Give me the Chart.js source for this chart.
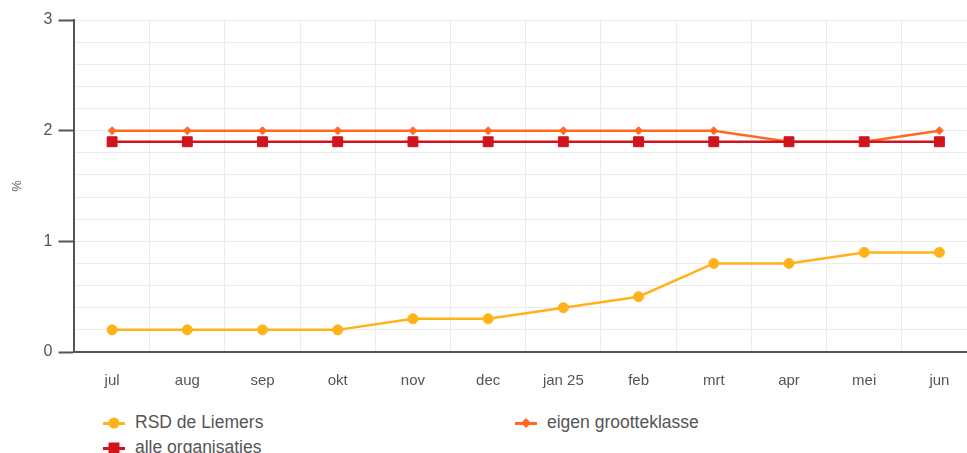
<!DOCTYPE html>
<html>
<head>
<meta charset="utf-8">
<script src="https://cdn.jsdelivr.net/npm/chart.js@4"></script>
<style>
  html, body { margin: 0; padding: 0; background: #fff; overflow: hidden; }
  #wrap { position: relative; width: 967px; height: 453px; overflow: hidden; }
  #box { position: absolute; left: 0; top: 0; width: 985px; height: 410px; }
  .legend { position: absolute; left: 0; top: 0; font-family: "Liberation Sans", Arial, sans-serif; font-size: 17.5px; color: #555; }
  .item { position: absolute; white-space: nowrap; display: flex; align-items: center; }
  .mark { position: relative; width: 22px; height: 12px; margin-right: 10px; }
  .mark .ln { position: absolute; left: 0; right: 0; top: 5px; height: 3px; }
  .mark .pt { position: absolute; left: 50%; top: 50%; transform: translate(-50%, -50%); }
</style>
</head>
<body>
<div id="wrap">
  <div id="box"><canvas id="lineChart"></canvas></div>
  <div class="legend" id="legend"></div>
</div>
<script>
// Datos
const maanden = ['jul', 'aug', 'sep', 'okt', 'nov', 'dec', 'jan 25', 'feb', 'mrt', 'apr', 'mei', 'jun'];
const rsdLiemers = [0.2, 0.2, 0.2, 0.2, 0.3, 0.3, 0.4, 0.5, 0.8, 0.8, 0.9, 0.9];
const eigenKlasse = [2, 2, 2, 2, 2, 2, 2, 2, 2, 1.9, 1.9, 2];
const alleOrganisaties = [1.9, 1.9, 1.9, 1.9, 1.9, 1.9, 1.9, 1.9, 1.9, 1.9, 1.9, 1.9];
const reeksNamen = ['RSD de Liemers', 'eigen grootteklasse', 'alle organisaties'];

const kleuren = ['#ffb21a', '#ff6a21', '#d0141e'];
const gridKleur = '#ebebeb';
const asKleur = '#555555';
const fontFam = "'Liberation Sans', Arial, sans-serif";

const ctx = document.getElementById('lineChart').getContext('2d');
const lineChart = new Chart(ctx, {
    type: 'line',
    data: {
        labels: maanden,
        datasets: [{
            label: reeksNamen[0],
            data: rsdLiemers,
            borderColor: kleuren[0],
            backgroundColor: kleuren[0],
            borderWidth: 2.5,
            pointStyle: 'circle',
            pointRadius: 5,
            pointBorderWidth: 1,
            tension: 0,
            order: 1
        }, {
            label: reeksNamen[1],
            data: eigenKlasse,
            borderColor: kleuren[1],
            backgroundColor: kleuren[1],
            borderWidth: 2.5,
            pointStyle: 'rectRot',
            pointRadius: 4,
            pointBorderWidth: 1,
            tension: 0,
            order: 2
        }, {
            label: reeksNamen[2],
            data: alleOrganisaties,
            borderColor: kleuren[2],
            backgroundColor: kleuren[2],
            borderWidth: 2.5,
            pointStyle: 'rect',
            pointRadius: 7,
            pointBorderWidth: 1,
            tension: 0,
            order: 0
        }]
    },
    options: {
        responsive: true,
        maintainAspectRatio: false,
        animation: false,
        layout: { padding: { top: 20, right: 8, bottom: 0, left: 6 } },
        scales: {
            y: {
                min: 0,
                max: 3,
                ticks: {
                    stepSize: 0.2,
                    autoSkip: false,
                    color: '#555',
                    font: { size: 16, family: fontFam },
                    padding: 6,
                    callback: function (value) {
                        return Math.abs(value - Math.round(value)) < 1e-6 ? String(Math.round(value)) : '';
                    }
                },
                grid: {
                    color: gridKleur,
                    tickLength: 16,
                    tickColor: function (c) {
                        const v = c.tick ? c.tick.value : 0;
                        return Math.abs(v - Math.round(v)) < 1e-6 ? asKleur : 'rgba(0,0,0,0)';
                    },
                    tickWidth: 2
                },
                border: { color: asKleur, width: 2 },
                title: {
                    display: true,
                    text: '%',
                    color: '#666',
                    font: { size: 13, family: fontFam },
                    padding: { bottom: 12 }
                }
            },
            x: {
                offset: true,
                ticks: {
                    color: '#555',
                    font: { size: 15, family: fontFam },
                    padding: 20
                },
                grid: {
                    color: gridKleur,
                    offset: true,
                    drawTicks: false
                },
                border: { color: asKleur, width: 2 }
            }
        },
        plugins: {
            legend: { display: false },
            tooltip: { enabled: false }
        }
    }
});

// Legenda in HTML
const legend = document.getElementById('legend');
const posities = [[103, 412], [515, 412], [103, 437]];
const vormen = [
    'width:11px;height:11px;border-radius:50%;',
    'width:7px;height:7px;transform:translate(-50%,-50%) rotate(45deg);',
    'width:11px;height:11px;'
];
reeksNamen.forEach(function (naam, i) {
    const el = document.createElement('div');
    el.className = 'item';
    el.style.left = posities[i][0] + 'px';
    el.style.top = posities[i][1] + 'px';
    el.innerHTML = '<span class="mark"><span class="ln" style="background:' + kleuren[i] + '"></span>' +
        '<span class="pt" style="background:' + kleuren[i] + ';' + vormen[i] + '"></span></span>' + naam;
    legend.appendChild(el);
});
</script>
</body>
</html>
